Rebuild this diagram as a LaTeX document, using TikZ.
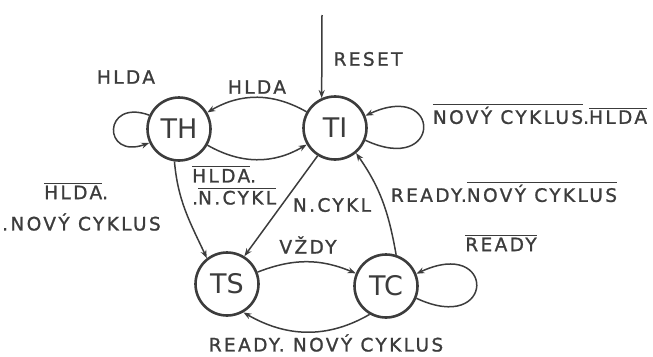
\documentclass[tikz,border=0pt]{standalone}
\usepackage{fontspec}
\setmainfont{DejaVu Sans}
\newfontfamily\lblfont[LetterSpace=13,FakeBold=1.2]{DejaVu Sans}
\usetikzlibrary{arrows.meta}
\definecolor{ink}{RGB}{60,60,60}
\newcommand{\ovl}[1]{\leavevmode\vbox{\hrule height 1.2pt\kern 1.6pt\hbox{#1}}}

\begin{document}
\begin{tikzpicture}[
    x=1pt, y=-1pt,
    state/.style={
      circle, draw=ink, line width=2.6pt, minimum size=63pt,
      inner sep=0pt, text=ink, font=\fontsize{27}{30}\selectfont
    },
    lbl/.style={
      font=\lblfont\fontsize{18.5}{22}\selectfont, text=ink, inner sep=1pt
    },
    arrow/.style={-{Stealth[length=8pt,width=6pt]}, draw=ink, line width=1.5pt},
  ]
  \useasboundingbox (0,0) rectangle (653,356);

  %% States
  \node[state] (th) at (179,129) {TH};
  \node[state] (ti) at (335,128) {TI};
  \node[state] (ts) at (227,284) {TS};
  \node[state] (tc) at (386,286) {TC};
  \coordinate (reset) at (322,15);

  %% Transitions
  \draw[arrow] (reset) -- (ti.114);
  \draw[arrow] (th.155) to[out=160,in=200,distance=50pt] (th.205);
  \draw[arrow] (ti.-22) to[out=-25,in=25,distance=85pt] (ti.22);
  \draw[arrow] (tc.-22) to[out=-25,in=25,distance=88pt] (tc.22);
  \draw[arrow] (ti) to[bend right=30] (th);
  \draw[arrow] (th) to[bend right=30] (ti);
  \draw[arrow] (th.262) to[out=-85,in=115] (ts.128);
  \draw[arrow] (ti.238) -- (ts.58);
  \draw[arrow] (tc.72) to[out=100,in=-55] (ti.-50);
  \draw[arrow] (ts) to[bend left=22] (tc);
  \draw[arrow] (tc.-120) to[out=-150,in=-30] (ts.-60);

  %% Labels
  \node[lbl] (l-reset) at (368,59) {RESET};
  \node[lbl] (l-thloop) at (126,77) {HLDA};
  \node[lbl] (l-tith) at (257,87) {HLDA};
  \node[lbl] (l-tiloop) at (540,114) {\ovl{NOVÝ CYKLUS}.\ovl{HLDA}};
  \node[lbl] (l-tcti) at (504,192) {READY.\ovl{NOVÝ CYKLUS}};
  \node[lbl] (l-tcloop) at (501,243) {\ovl{READY}};
  \node[lbl] (l-tstc) at (308,245) {VŽDY};
  \node[lbl] (l-tcts) at (326,343) {READY. NOVÝ CYKLUS};
  \node[lbl] (l-tits) at (332,205) {N.CYKL};
  \node[lbl, align=left, anchor=north west] (l-thti) at (191,165)
    {\ovl{HLDA}.\\.\ovl{N.CYKL}};
  \node[lbl, anchor=west] (l-thts1) at (43,191) {\ovl{HLDA}.};
  \node[lbl, anchor=west] (l-thts2) at (1,222) {.NOVÝ CYKLUS};

\end{tikzpicture}
\end{document}
